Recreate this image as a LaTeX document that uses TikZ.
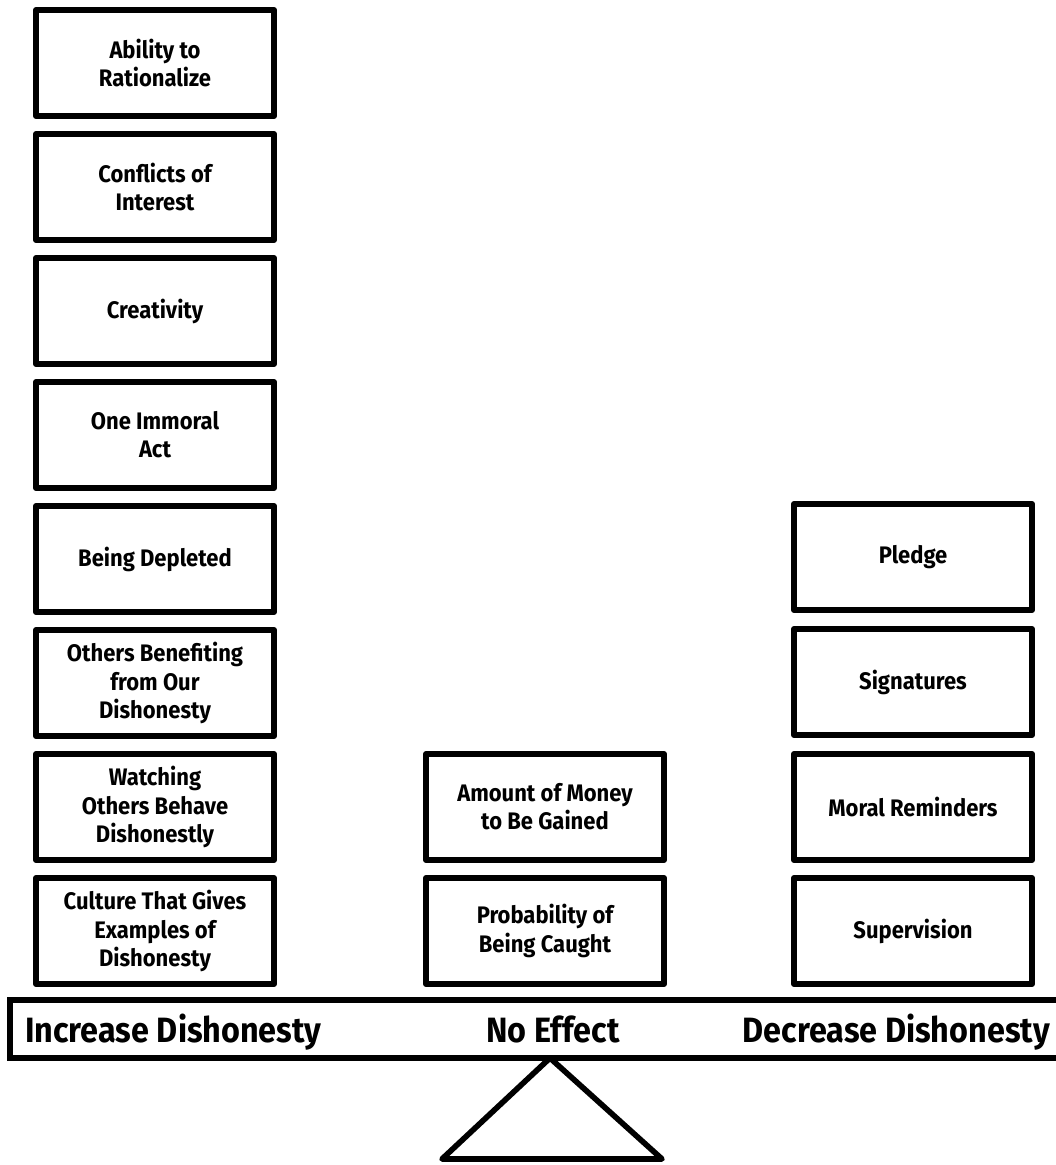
\documentclass[tikz,border=0pt]{standalone}
\usepackage{fontspec}
\setmainfont{Fira Sans}[FakeStretch=0.92]
\usepackage{tikz}

\begin{document}
\begin{tikzpicture}[x=0.025cm,y=-0.025cm,
  factor/.style={draw, line width=4.2pt, line join=round, minimum width=5.95cm,
    minimum height=2.65cm, align=center, inner sep=2pt,
    font=\fontsize{17}{20}\selectfont\bfseries},
  side/.style={font=\fontsize{25}{28}\selectfont\bfseries, inner sep=0pt}]
\useasboundingbox (0,0) rectangle (1056,1165);
% increase dishonesty
\node[factor] (rationalize) at (155,63) {Ability to\\Rationalize};
\node[factor] (conflicts) at (155,187) {Conflicts of\\Interest};
\node[factor] (creativity) at (155,311) {Creativity};
\node[factor] (immoral) at (155,435) {One Immoral\\Act};
\node[factor] (depleted) at (155,559) {Being Depleted};
\node[factor] (benefit) at (155,683) {Others Benefiting\\from Our\\Dishonesty};
\node[factor] (watching) at (155,807) {Watching\\Others Behave\\Dishonestly};
\node[factor] (culture) at (155,931) {Culture That Gives\\Examples of\\Dishonesty};
% no effect
\node[factor] (money) at (545,807) {Amount of Money\\to Be Gained};
\node[factor] (caught) at (545,931) {Probability of\\Being Caught};
% decrease dishonesty
\node[factor] (pledge) at (913,557) {Pledge};
\node[factor] (signatures) at (913,682) {Signatures};
\node[factor] (reminders) at (913,807) {Moral Reminders};
\node[factor] (supervision) at (913,931) {Supervision};
% beam and pivot
\draw[line width=4.2pt] (1080,1000) -- (10,1000) -- (10,1058) -- (1080,1058);
\node[side, anchor=base west] (increase) at (25,1042) {Increase Dishonesty};
\node[side, anchor=base] (noeffect) at (553,1042) {No Effect};
\node[side, anchor=base east] (decrease) at (1050,1042) {Decrease Dishonesty};
\coordinate (apex) at (550,1058);
\draw[line width=4pt, line join=round] (apex) -- (662,1159) -- (442,1159) -- cycle;
\end{tikzpicture}
\end{document}
